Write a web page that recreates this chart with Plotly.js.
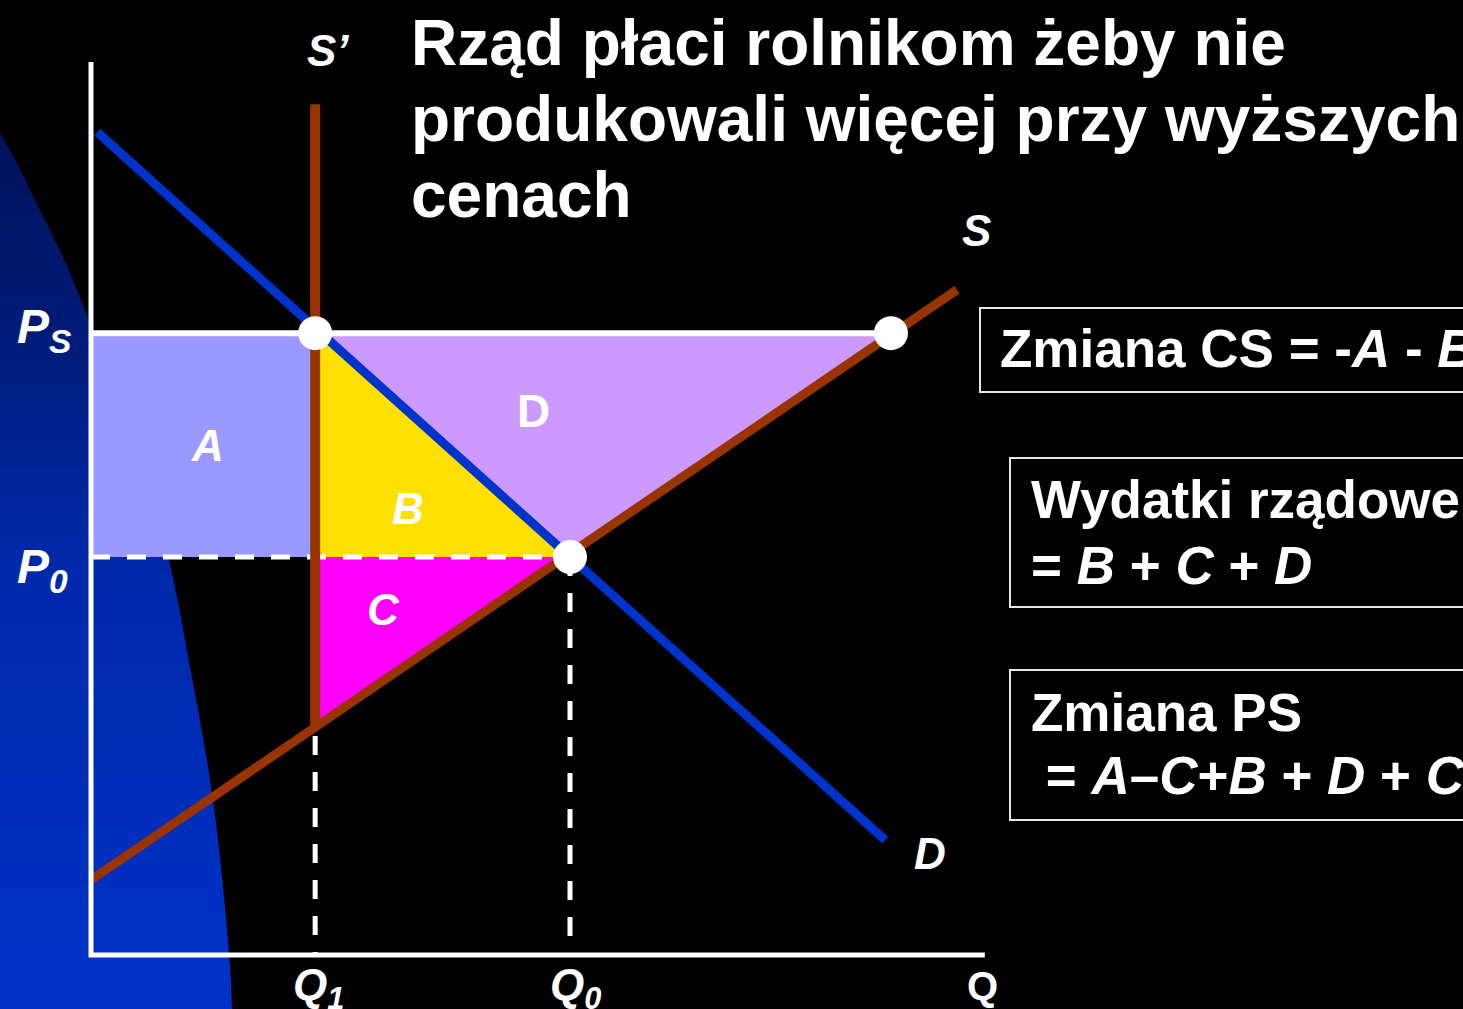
<!DOCTYPE html>
<html><head><meta charset="utf-8">
<script src="https://cdn.plot.ly/plotly-3.0.1.min.js"></script>
<style>html,body{margin:0;padding:0;background:#000;overflow:hidden;}</style>
</head><body><div id="chart" style="width:1463px;height:1009px;"></div>
<script>
// ---- data (Q = quantity, P = price) ----
const Q1 = 4.68, Q0 = 10, QsS = 16.7;     // quantities
const P0 = 8, Ps = 12.5, PsAtQ1 = 4.6;     // prices
const demandQ = [0.13, 16.58], demandP = [16.54, 2.31];
const supplyQ = [0, 18.08],    supplyP = [1.51, 13.37];
const sPrimeQ = [Q1, Q1],      sPrimeP = [17.1, PsAtQ1];
const axisQmax = 18.66, axisPmax = 17.95;
const areaA_Q = [0, Q1, Q1, 0],    areaA_P = [P0, P0, Ps, Ps];
const areaB_Q = [Q1, Q1, Q0],      areaB_P = [Ps, P0, P0];
const areaC_Q = [Q1, Q0, Q1],      areaC_P = [P0, P0, PsAtQ1];
const areaD_Q = [Q1, QsS, Q0],     areaD_P = [Ps, Ps, P0];
const pointsQ = [Q1, QsS, Q0],     pointsP = [Ps, Ps, P0];
// decorative background arc (left side)
const bgQ = [-6.075, -2.965, -1.900, -1.545, -1.211, -0.856, -0.501, -0.230, 0, 0.564, 1.106, 1.608, 2.067, 2.547, 2.881, 2.944, 2.985, -6.075];
const bgP = [18.392, 18.392, 16.523, 15.920, 15.256, 14.573, 13.849, 13.206, 12.663, 11.055, 9.508, 8.000, 5.789, 3.116, 0.060, -1.085, -2.513, -2.513];

const W = 1463, H = 1009, X0 = 91, Y0 = 955, SX = 47.9, SY = 49.75;
const FONT = 'Liberation Sans, Arial, sans-serif';
const px = v => v / W, py = v => 1 - v / H;

function line(x, y, color, width, dash) {
  return {type:'scatter', mode:'lines', x, y, hoverinfo:'skip', showlegend:false,
          line:{color, width, dash: dash || 'solid'}};
}
function area(x, y, color) {
  return {type:'scatter', mode:'lines', x, y, fill:'toself', fillcolor:color,
          line:{width:0}, hoverinfo:'skip', showlegend:false};
}

const dash = '19px,17px';
const traces = [
  {type:'scatter', mode:'lines', x:bgQ, y:bgP, fill:'toself', line:{width:0, shape:'spline', smoothing:1},
   fillgradient:{type:'vertical', start:-1.085, stop:16.52,
     colorscale:[[0,'#0032c8'],[0.5,'#0029ab'],[0.75,'#001d7c'],[1,'#001258']]},
   hoverinfo:'skip', showlegend:false},
  area(areaA_Q, areaA_P, '#9999ff'),
  area(areaB_Q, areaB_P, '#ffe000'),
  area(areaC_Q, areaC_P, '#ff00ff'),
  area(areaD_Q, areaD_P, '#cc99ff'),
  line([0, Q0], [P0, P0], '#ffffff', 5, dash),
  line([Q1, Q1], [PsAtQ1 - 0.2, 0], '#ffffff', 5, dash),
  line([Q0, Q0], [P0, 0], '#ffffff', 5, dash),
  line([0, QsS], [Ps, Ps], '#ffffff', 6),
  line(demandQ, demandP, '#0033cc', 9),
  line(supplyQ, supplyP, '#993300', 9),
  line(sPrimeQ, sPrimeP, '#993300', 10),
  line([0, 0, axisQmax], [axisPmax, 0, 0], '#ffffff', 5),
  {type:'scatter', mode:'markers', x:pointsQ, y:pointsP, hoverinfo:'skip', showlegend:false,
   marker:{size:34, color:'#ffffff', line:{width:0}}}
];

function ann(text, x, y, size, opts) {
  opts = opts || {};
  return {text, xref:'paper', yref:'paper', x:px(x), y:py(y),
    xanchor: opts.xanchor || 'center', yanchor:'middle', showarrow:false,
    font:{family:FONT, size, color:'#ffffff', weight:'bold', style: opts.italic ? 'italic' : 'normal'}};
}

const annotations = [
  ann('Rząd płaci rolnikom żeby nie', 409, 43, 64, {xanchor:'left'}),
  ann('produkowali więcej przy wyższych', 409, 119, 64, {xanchor:'left'}),
  ann('cenach', 409, 195, 64, {xanchor:'left'}),
  ann('S’', 328, 50, 44, {italic:true}),
  ann('S', 976, 230, 44, {italic:true}),
  ann('D', 930, 853, 44, {italic:true}),
  ann('A', 207, 446, 44, {italic:true}),
  ann('B', 408, 508, 44, {italic:true}),
  ann('C', 383, 609, 44, {italic:true}),
  ann('D', 533, 411, 46),
  ann('P<sub>S</sub>', 44, 330, 48, {italic:true}),
  ann('P<sub>0</sub>', 42, 570, 48, {italic:true}),
  ann('Q<sub>1</sub>', 318, 988, 44, {italic:true}),
  ann('Q<sub>0</sub>', 575, 988, 44, {italic:true}),
  ann('Q', 982, 986, 40),
  ann('Zmiana CS = -<i>A</i> - <i>B</i>', 998, 348, 53, {xanchor:'left'}),
  ann('Wydatki rządowe', 1029, 500, 53, {xanchor:'left'}),
  ann('= <i>B</i> + <i>C</i> + <i>D</i>', 1029, 565, 53, {xanchor:'left'}),
  ann('Zmiana PS', 1029, 712, 53, {xanchor:'left'}),
  ann(' = <i>A</i>–<i>C</i>+<i>B</i> + <i>D</i> + <i>C</i>', 1029, 775, 53, {xanchor:'left'})
];

function box(x0, y0, x1, y1) {
  return {type:'rect', xref:'paper', yref:'paper', x0:px(x0), x1:px(x1), y0:py(y1), y1:py(y0),
          line:{color:'#e6e6e6', width:2}, fillcolor:'rgba(0,0,0,0)', layer:'above'};
}

const layout = {
  width:W, height:H, margin:{l:0, r:0, t:0, b:0, pad:0},
  paper_bgcolor:'#000000', plot_bgcolor:'#000000',
  xaxis:{range:[-X0/SX, (W - X0)/SX], visible:false, fixedrange:true},
  yaxis:{range:[(Y0 - H)/SY, Y0/SY], visible:false, fixedrange:true},
  showlegend:false,
  shapes:[box(980, 308, 1500, 392), box(1010, 458, 1500, 607), box(1010, 670, 1500, 820)],
  annotations
};

Plotly.newPlot('chart', traces, layout, {staticPlot:true, displayModeBar:false});
</script></body></html>
